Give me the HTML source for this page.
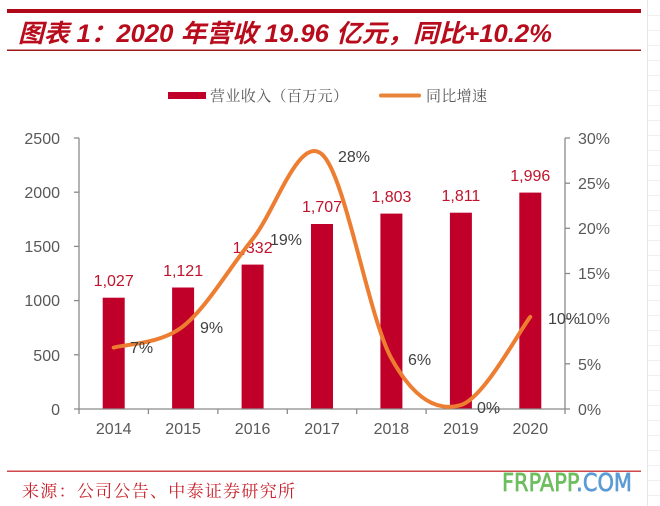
<!DOCTYPE html>
<html><head><meta charset="utf-8"><style>
html,body{margin:0;padding:0;background:#fff;}
svg{display:block;}
</style></head><body>
<svg width="660" height="506" viewBox="0 0 660 506" xmlns="http://www.w3.org/2000/svg">
<rect width="660" height="506" fill="#fff"/>
<!-- faint spreadsheet grid on the right -->
<g stroke="#f0f0f0" stroke-width="1">
<line x1="647.5" y1="0" x2="647.5" y2="506" stroke="#e6e6e6"/>
<line x1="648" y1="15.5" x2="660" y2="15.5"/><line x1="648" y1="30.5" x2="660" y2="30.5"/><line x1="648" y1="45.5" x2="660" y2="45.5"/><line x1="648" y1="60.5" x2="660" y2="60.5"/><line x1="648" y1="75.5" x2="660" y2="75.5"/><line x1="648" y1="90.5" x2="660" y2="90.5"/><line x1="648" y1="105.5" x2="660" y2="105.5"/><line x1="648" y1="120.5" x2="660" y2="120.5"/><line x1="648" y1="135.5" x2="660" y2="135.5"/><line x1="648" y1="150.5" x2="660" y2="150.5"/><line x1="648" y1="165.5" x2="660" y2="165.5"/><line x1="648" y1="180.5" x2="660" y2="180.5"/><line x1="648" y1="195.5" x2="660" y2="195.5"/><line x1="648" y1="210.5" x2="660" y2="210.5"/><line x1="648" y1="225.5" x2="660" y2="225.5"/><line x1="648" y1="240.5" x2="660" y2="240.5"/><line x1="648" y1="255.5" x2="660" y2="255.5"/><line x1="648" y1="270.5" x2="660" y2="270.5"/><line x1="648" y1="285.5" x2="660" y2="285.5"/><line x1="648" y1="300.5" x2="660" y2="300.5"/><line x1="648" y1="315.5" x2="660" y2="315.5"/><line x1="648" y1="330.5" x2="660" y2="330.5"/><line x1="648" y1="345.5" x2="660" y2="345.5"/><line x1="648" y1="360.5" x2="660" y2="360.5"/><line x1="648" y1="375.5" x2="660" y2="375.5"/><line x1="648" y1="390.5" x2="660" y2="390.5"/><line x1="648" y1="405.5" x2="660" y2="405.5"/><line x1="648" y1="420.5" x2="660" y2="420.5"/><line x1="648" y1="435.5" x2="660" y2="435.5"/><line x1="648" y1="450.5" x2="660" y2="450.5"/><line x1="648" y1="465.5" x2="660" y2="465.5"/><line x1="648" y1="480.5" x2="660" y2="480.5"/><line x1="648" y1="495.5" x2="660" y2="495.5"/>
</g>

<!-- header -->
<rect x="7" y="9" width="634" height="4" fill="#B00A1A"/>
<text x="18" y="42" font-family="'Liberation Sans','Noto Sans CJK SC',sans-serif" font-size="25" font-weight="bold" font-style="italic" fill="#B80C1C" textLength="534" lengthAdjust="spacingAndGlyphs">图表 1：2020 年营收 19.96 亿元，同比+10.2%</text>
<rect x="7" y="49.5" width="634" height="1.5" fill="#A01A1A"/>

<!-- legend -->
<rect x="168" y="92" width="38" height="7" fill="#C00028"/>
<text x="210" y="101" font-family="'Noto Serif CJK SC','Noto Sans CJK SC',serif" font-size="15" fill="#595959" textLength="138" lengthAdjust="spacing">营业收入（百万元）</text>
<line x1="381" y1="95.5" x2="419" y2="95.5" stroke="#E8853A" stroke-width="4" stroke-linecap="round"/>
<text x="426" y="101" font-family="'Noto Serif CJK SC','Noto Sans CJK SC',serif" font-size="15" fill="#595959" textLength="61" lengthAdjust="spacing">同比增速</text>

<!-- bars -->
<g fill="#C00028">
<rect x="102.7" y="297.7" width="22" height="111.3"/>
<rect x="172.1" y="287.5" width="22" height="121.5"/>
<rect x="241.6" y="264.6" width="22" height="144.4"/>
<rect x="311.0" y="224.0" width="22" height="185.0"/>
<rect x="380.4" y="213.6" width="22" height="195.4"/>
<rect x="449.9" y="212.7" width="22" height="196.3"/>
<rect x="519.3" y="192.6" width="22" height="216.4"/>
</g>

<!-- axes -->
<g stroke="#8a8a8a" stroke-width="1.3" fill="none">
<line x1="79" y1="138" x2="79" y2="409"/>
<line x1="565" y1="138" x2="565" y2="409"/>
<line x1="74" y1="409" x2="570" y2="409"/>
<line x1="74" y1="138" x2="79" y2="138"/><line x1="74" y1="192.2" x2="79" y2="192.2"/><line x1="74" y1="246.4" x2="79" y2="246.4"/><line x1="74" y1="300.6" x2="79" y2="300.6"/><line x1="74" y1="354.8" x2="79" y2="354.8"/>
<line x1="565" y1="138" x2="570" y2="138"/><line x1="565" y1="183.2" x2="570" y2="183.2"/><line x1="565" y1="228.3" x2="570" y2="228.3"/><line x1="565" y1="273.5" x2="570" y2="273.5"/><line x1="565" y1="318.7" x2="570" y2="318.7"/><line x1="565" y1="363.8" x2="570" y2="363.8"/>
<line x1="79" y1="409" x2="79" y2="414"/><line x1="148.4" y1="409" x2="148.4" y2="414"/><line x1="217.9" y1="409" x2="217.9" y2="414"/><line x1="287.3" y1="409" x2="287.3" y2="414"/><line x1="356.7" y1="409" x2="356.7" y2="414"/><line x1="426.1" y1="409" x2="426.1" y2="414"/><line x1="495.6" y1="409" x2="495.6" y2="414"/><line x1="565" y1="409" x2="565" y2="414"/>
</g>

<!-- axis labels -->
<g font-family="'Liberation Sans',sans-serif" font-size="16" fill="#595959">
<g text-anchor="end">
<text x="60" y="144">2500</text><text x="60" y="198">2000</text><text x="60" y="252">1500</text><text x="60" y="306">1000</text><text x="60" y="361">500</text><text x="60" y="415">0</text>
</g>
<text x="578" y="144">30%</text><text x="578" y="189">25%</text><text x="578" y="234">20%</text><text x="578" y="279">15%</text><text x="578" y="324">10%</text><text x="578" y="370">5%</text><text x="578" y="415">0%</text>
<g text-anchor="middle">
<text x="113.7" y="434">2014</text><text x="183.1" y="434">2015</text><text x="252.6" y="434">2016</text><text x="322" y="434">2017</text><text x="391.4" y="434">2018</text><text x="460.9" y="434">2019</text><text x="530.3" y="434">2020</text>
</g>
</g>

<!-- bar value labels -->
<g font-family="'Liberation Sans',sans-serif" font-size="16" fill="#C0142C" text-anchor="middle">
<text x="113.7" y="286">1,027</text>
<text x="183.1" y="276">1,121</text>
<text x="252.6" y="253">1,332</text>
<text x="322" y="212">1,707</text>
<text x="391.4" y="202">1,803</text>
<text x="460.9" y="201">1,811</text>
<text x="530.3" y="181">1,996</text>
</g>

<!-- growth line -->
<path d="M113.7,347.6 C125.3,344.05 160.0,344.4 183.1,326.3 C206.2,308.2 229.35,267.9 252.5,239.2 C275.65,210.5 298.85,134.4 322,154.3 C345.15,174.2 368.25,316.6 391.4,358.4 C414.55,400.2 437.75,411.9 460.9,405 C484.05,398.1 518.7,331.6 530.3,316.9" fill="none" stroke="#ED7D31" stroke-width="4" stroke-linecap="round" stroke-linejoin="round"/>

<!-- growth labels -->
<g font-family="'Liberation Sans',sans-serif" font-size="16" fill="#404040">
<text x="130" y="353">7%</text>
<text x="200" y="333">9%</text>
<text x="270" y="245">19%</text>
<text x="338" y="162">28%</text>
<text x="408" y="365">6%</text>
<text x="477" y="413">0%</text>
<text x="548" y="324">10%</text>
</g>

<!-- footer -->
<rect x="7" y="470.5" width="634" height="1.5" fill="#D04848"/>
<text x="22" y="497" font-family="'Noto Serif CJK SC','Noto Sans CJK SC',serif" font-size="17" fill="#C8202A" textLength="273" lengthAdjust="spacing">来源：公司公告、中泰证券研究所</text>
<text x="502" y="491" font-family="'DejaVu Sans','Liberation Sans',sans-serif" font-size="25" textLength="130" lengthAdjust="spacingAndGlyphs" stroke-width="0.7"><tspan fill="#6DBE5F" stroke="#6DBE5F">FRPAPP</tspan><tspan fill="#5B9BD5" stroke="#5B9BD5">.COM</tspan></text>
</svg>
</body></html>
